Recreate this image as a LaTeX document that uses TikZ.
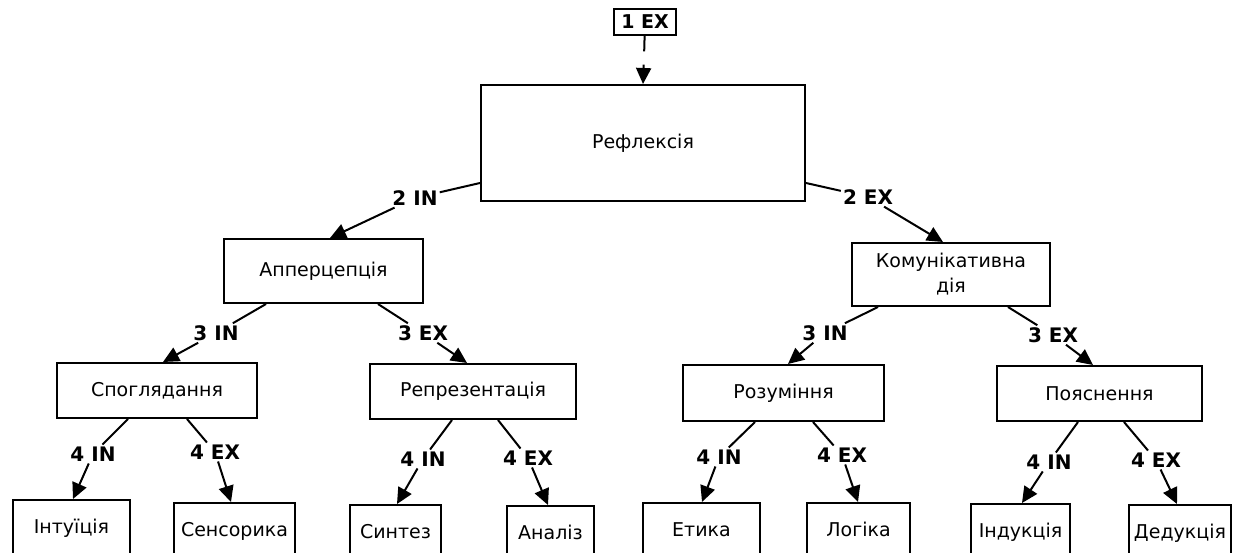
\documentclass[tikz,border=0pt]{standalone}
\usepackage{fontspec}
\setmainfont{DejaVu Sans}
\usetikzlibrary{arrows.meta,calc}

\tikzset{
  box/.style={draw, line width=2pt, inner sep=0pt, align=center,
    font=\fontsize{19}{25}\selectfont},
  leafbox/.style={draw, line width=2pt, inner xsep=0pt, inner ysep=0pt,
    anchor=north, text height=33pt, text depth=40pt,
    font=\fontsize{19}{25}\selectfont},
  lbl/.style={inner sep=2pt, font=\fontsize{20}{24}\selectfont\bfseries},
  gap/.style={inner sep=0pt, minimum width=4pt, minimum height=13pt},
  link/.style={line width=2pt},
  arr/.style={line width=2pt, -{Triangle[length=16pt,width=15pt]}},
}

\begin{document}
\begin{tikzpicture}[x=1pt,y=-1pt]
\useasboundingbox (0,0) rectangle (1234,553);
\clip (0,0) rectangle (1234,553);

% top
\node[box, minimum width=62pt, minimum height=26pt,
      font=\fontsize{19}{22}\selectfont\bfseries] (ex1) at (645,22) {1 EX};
\node[box, minimum width=324pt, minimum height=116pt] (refl) at (643,143) {Рефлексія};

% second level
\node[box, minimum width=199pt, minimum height=64pt] (app) at (323.5,271) {Апперцепція};
\node[box, minimum width=198pt, minimum height=63pt] (kom) at (951,274.5) {Комунікативна\\дія};

% third level
\node[box, minimum width=200pt, minimum height=55pt] (spog) at (157,390.5) {Споглядання};
\node[box, minimum width=206pt, minimum height=55pt] (repr) at (473,391.5) {Репрезентація};
\node[box, minimum width=201pt, minimum height=56pt] (rozum) at (783.5,393) {Розуміння};
\node[box, minimum width=205pt, minimum height=55pt] (poyas) at (1099.5,393.5) {Пояснення};

% leaves
\node[leafbox, minimum width=117pt] (intu) at (71.5,499) {Інтуїція};
\node[leafbox, minimum width=121pt] (sens) at (234.5,502) {Сенсорика};
\node[leafbox, minimum width=91pt]  (synt) at (395.5,504) {Синтез};
\node[leafbox, minimum width=87pt]  (anal) at (550.5,505) {Аналіз};
\node[leafbox, minimum width=117pt] (etyk) at (701.5,502) {Етика};
\node[leafbox, minimum width=103pt] (logi) at (858.5,502) {Логіка};
\node[leafbox, minimum width=99pt]  (indu) at (1020.5,503) {Індукція};
\node[leafbox, minimum width=102pt] (dedu) at (1180,504) {Дедукція};

% edge labels
\node[gap] (g1) at (644,58) {};
\node[lbl] (l2i) at (415,198) {2 IN};
\node[lbl] (l2e) at (868,197) {2 EX};
\node[lbl] (l3ia) at (216,333) {3 IN};
\node[lbl] (l3ea) at (423,333) {3 EX};
\node[lbl] (l3ik) at (825,333) {3 IN};
\node[lbl] (l3ek) at (1053,335) {3 EX};
\node[lbl] (l4is) at (93,454) {4 IN};
\node[lbl] (l4es) at (215,452) {4 EX};
\node[lbl] (l4ir) at (423,459) {4 IN};
\node[lbl] (l4er) at (528,458) {4 EX};
\node[lbl] (l4iz) at (719,457) {4 IN};
\node[lbl] (l4ez) at (842,455) {4 EX};
\node[lbl] (l4ip) at (1049,462) {4 IN};
\node[lbl] (l4ep) at (1156,460) {4 EX};

% connectors
\draw[link] (ex1) -- (g1);
\draw[arr] (g1) -- (refl.north);

\draw[link] ($(refl.west)+(0,40)$) -- (l2i);
\draw[arr] (l2i) -- ($(app.north)+(6.5,0)$);
\draw[link] ($(refl.east)+(0,40)$) -- (l2e);
\draw[arr] (l2e) -- ($(kom.north)+(-8,0)$);

\draw[link] ($(app.south)+(-57.5,0)$) -- (l3ia);
\draw[arr] (l3ia) -- ($(spog.north)+(6,0)$);
\draw[link] ($(app.south)+(54.5,0)$) -- (l3ea);
\draw[arr] (l3ea) -- ($(repr.north)+(-6,0)$);
\draw[link] ($(kom.south)+(-73,0)$) -- (l3ik);
\draw[arr] (l3ik) -- ($(rozum.north)+(4.5,0)$);
\draw[link] ($(kom.south)+(57,0)$) -- (l3ek);
\draw[arr] (l3ek) -- ($(poyas.north)+(-6.5,0)$);

\draw[link] ($(spog.south)+(-29,0)$) -- (l4is);
\draw[arr] (l4is) -- ($(intu.north)+(1.5,0)$);
\draw[link] ($(spog.south)+(30,0)$) -- (l4es);
\draw[arr] (l4es) -- ($(sens.north)+(-3.5,0)$);
\draw[link] ($(repr.south)+(-21,0)$) -- (l4ir);
\draw[arr] (l4ir) -- ($(synt.north)+(1.5,0)$);
\draw[link] ($(repr.south)+(25,0)$) -- (l4er);
\draw[arr] (l4er) -- ($(anal.north)+(-2.5,0)$);
\draw[link] ($(rozum.south)+(-28.5,0)$) -- (l4iz);
\draw[arr] (l4iz) -- ($(etyk.north)+(0.5,0)$);
\draw[link] ($(rozum.south)+(29.5,0)$) -- (l4ez);
\draw[arr] (l4ez) -- ($(logi.north)+(-0.5,0)$);
\draw[link] ($(poyas.south)+(-21.5,0)$) -- (l4ip);
\draw[arr] (l4ip) -- ($(indu.north)+(1.5,0)$);
\draw[link] ($(poyas.south)+(24.5,0)$) -- (l4ep);
\draw[arr] (l4ep) -- ($(dedu.north)+(-3,0)$);
\end{tikzpicture}
\end{document}
